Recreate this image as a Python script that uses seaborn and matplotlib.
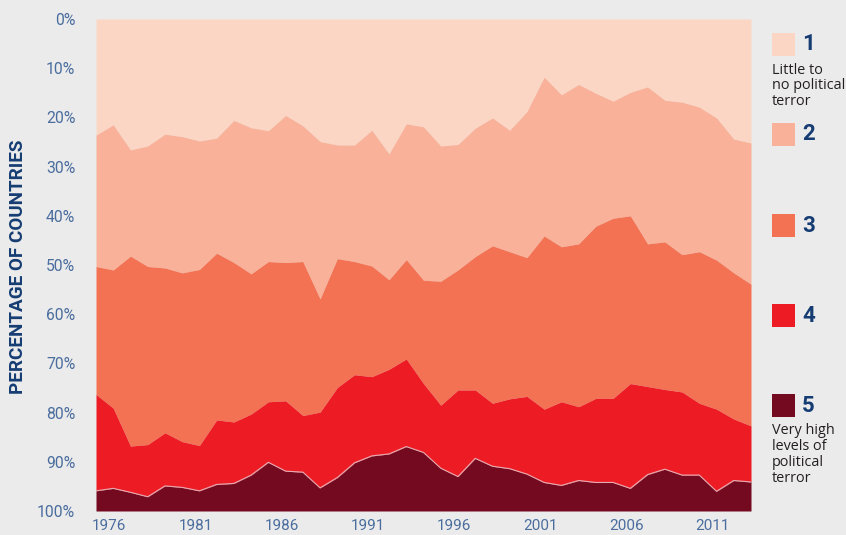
import matplotlib
matplotlib.use("Agg")
import matplotlib.pyplot as plt
import matplotlib.transforms as mtransforms
from matplotlib.patches import Rectangle
import seaborn as sns
import pandas as pd

# Share of countries (%) at each Political Terror Scale level, per year
years = list(range(1975, 2014))
level1 = [23.6, 21.5, 26.6, 25.8, 23.4, 23.9, 24.8, 24.2, 20.6, 22.1,
          22.7, 19.6, 21.7, 24.9, 25.6, 25.6, 22.6, 27.4, 21.3, 21.9,
          25.8, 25.5, 22.2, 20.1, 22.6, 18.8, 11.8, 15.4, 13.3, 15.1,
          16.7, 14.9, 13.8, 16.5, 16.9, 17.9, 20.1, 24.4, 25.2]
level2 = [26.7, 29.5, 21.6, 24.5, 27.2, 27.7, 26.1, 23.4, 28.9, 29.7,
          26.6, 29.9, 27.6, 32.0, 23.1, 23.7, 27.6, 25.6, 27.6, 31.2,
          27.5, 25.5, 26.1, 26.0, 24.7, 29.7, 32.3, 30.9, 32.4, 27.0,
          23.8, 25.1, 31.9, 28.8, 31.0, 29.4, 28.9, 27.2, 28.7]
level3 = [26.0, 28.1, 38.6, 36.2, 33.5, 34.3, 35.8, 33.9, 32.4, 28.5,
          28.5, 28.1, 31.3, 23.0, 26.2, 23.0, 22.5, 18.2, 20.2, 21.0,
          25.2, 24.4, 27.1, 32.0, 29.9, 28.2, 35.2, 31.5, 33.1, 35.0,
          36.6, 34.1, 29.0, 30.0, 27.9, 30.8, 30.3, 29.7, 28.8]
level4 = [19.6, 16.3, 9.4, 10.6, 10.8, 9.3, 9.2, 13.1, 12.5, 12.4,
          12.3, 14.3, 11.5, 15.4, 18.3, 17.9, 16.1, 17.2, 17.8, 14.0,
          12.8, 17.6, 13.9, 12.8, 14.2, 15.8, 14.9, 17.0, 15.0, 17.1,
          17.1, 21.3, 17.9, 16.2, 16.9, 14.6, 16.7, 12.5, 11.4]
level5 = [4.1, 4.6, 3.8, 2.9, 5.1, 4.8, 4.1, 5.4, 5.6, 7.3,
          9.9, 8.1, 7.9, 4.7, 6.8, 9.8, 11.2, 11.6, 13.1, 11.9,
          8.7, 7.0, 10.7, 9.1, 8.6, 7.5, 5.8, 5.2, 6.2, 5.8,
          5.8, 4.6, 7.4, 8.5, 7.3, 7.3, 4.0, 6.2, 5.9]

tick_years = [1976, 1981, 1986, 1991, 1996, 2001, 2006, 2011]
level_names = ["1", "2", "3", "4", "5"]
level_notes = {"1": "Little to\nno political\nterror",
               "5": "Very high\nlevels of\npolitical\nterror"}
colors = ["#fcd6c4", "#f9b299", "#f37253", "#ed1c24", "#740a20"]

BG = "#ebebeb"
TICK_BLUE = "#4a6d9e"
NAVY = "#163d73"

sns.set_theme(style="white", rc={"figure.facecolor": BG, "axes.facecolor": BG})
plt.rcParams["font.family"] = ["Roboto", "DejaVu Sans"]

df = pd.DataFrame({"year": years, "1": level1, "2": level2, "3": level3,
                   "4": level4, "5": level5})

fig = plt.figure(figsize=(8.46, 5.35), dpi=100)
ax = fig.add_axes([96 / 846, 1 - 511 / 535, 655 / 846, 492 / 535])

ax.stackplot(df["year"], [df[n] for n in level_names], colors=colors,
             linewidth=0, antialiased=True)

# thin light edge along the top of the most severe level
df["edge45"] = df[["1", "2", "3", "4"]].sum(axis=1)
sns.lineplot(data=df, x="year", y="edge45", ax=ax, color="#e9a9b0",
             linewidth=0.8, legend=False)

ax.set_xlim(years[0], years[-1])
ax.set_ylim(100, 0)
ax.set_xlabel("")
ax.set_ylabel("")
ax.set_yticks(range(0, 101, 10))
ax.set_yticklabels([f"{v}%" for v in range(0, 101, 10)])
ax.set_xticks(tick_years)
ax.set_xticklabels([str(y) for y in tick_years])
ax.tick_params(axis="y", length=0, pad=15, labelsize=11.3, labelcolor=TICK_BLUE)
ax.tick_params(axis="x", length=0, pad=6, labelsize=11, labelcolor=TICK_BLUE)
for lab in ax.get_xticklabels():
    lab.set_transform(lab.get_transform() +
                      mtransforms.ScaledTranslation(-4 / 100, 0, fig.dpi_scale_trans))
for s in ax.spines.values():
    s.set_visible(False)

fig.text(18 / 846, 1 - 267 / 535, "PERCENTAGE OF COUNTRIES", rotation=90,
         ha="center", va="center", fontsize=13.6, fontweight="bold", color=NAVY)

# legend column on the right
centers = [44.5, 134.5, 225.5, 315.5, 405.5]
for name, col, cy in zip(level_names, colors, centers):
    fig.patches.append(Rectangle((772 / 846, 1 - (cy + 11.5) / 535), 23 / 846, 23 / 535,
                                 transform=fig.transFigure, facecolor=col,
                                 edgecolor="none"))
    fig.text(802 / 846, 1 - cy / 535, name, ha="left", va="center",
             fontsize=16, fontweight="bold", color=NAVY)
    if name in level_notes:
        fig.text(772 / 846, 1 - (cy + 18) / 535, level_notes[name], ha="left", va="top",
                 fontsize=10.4, color="#231f20", linespacing=1.08,
                 family=["Open Sans", "DejaVu Sans"])

fig.savefig("out.png", dpi=100, facecolor=BG)
